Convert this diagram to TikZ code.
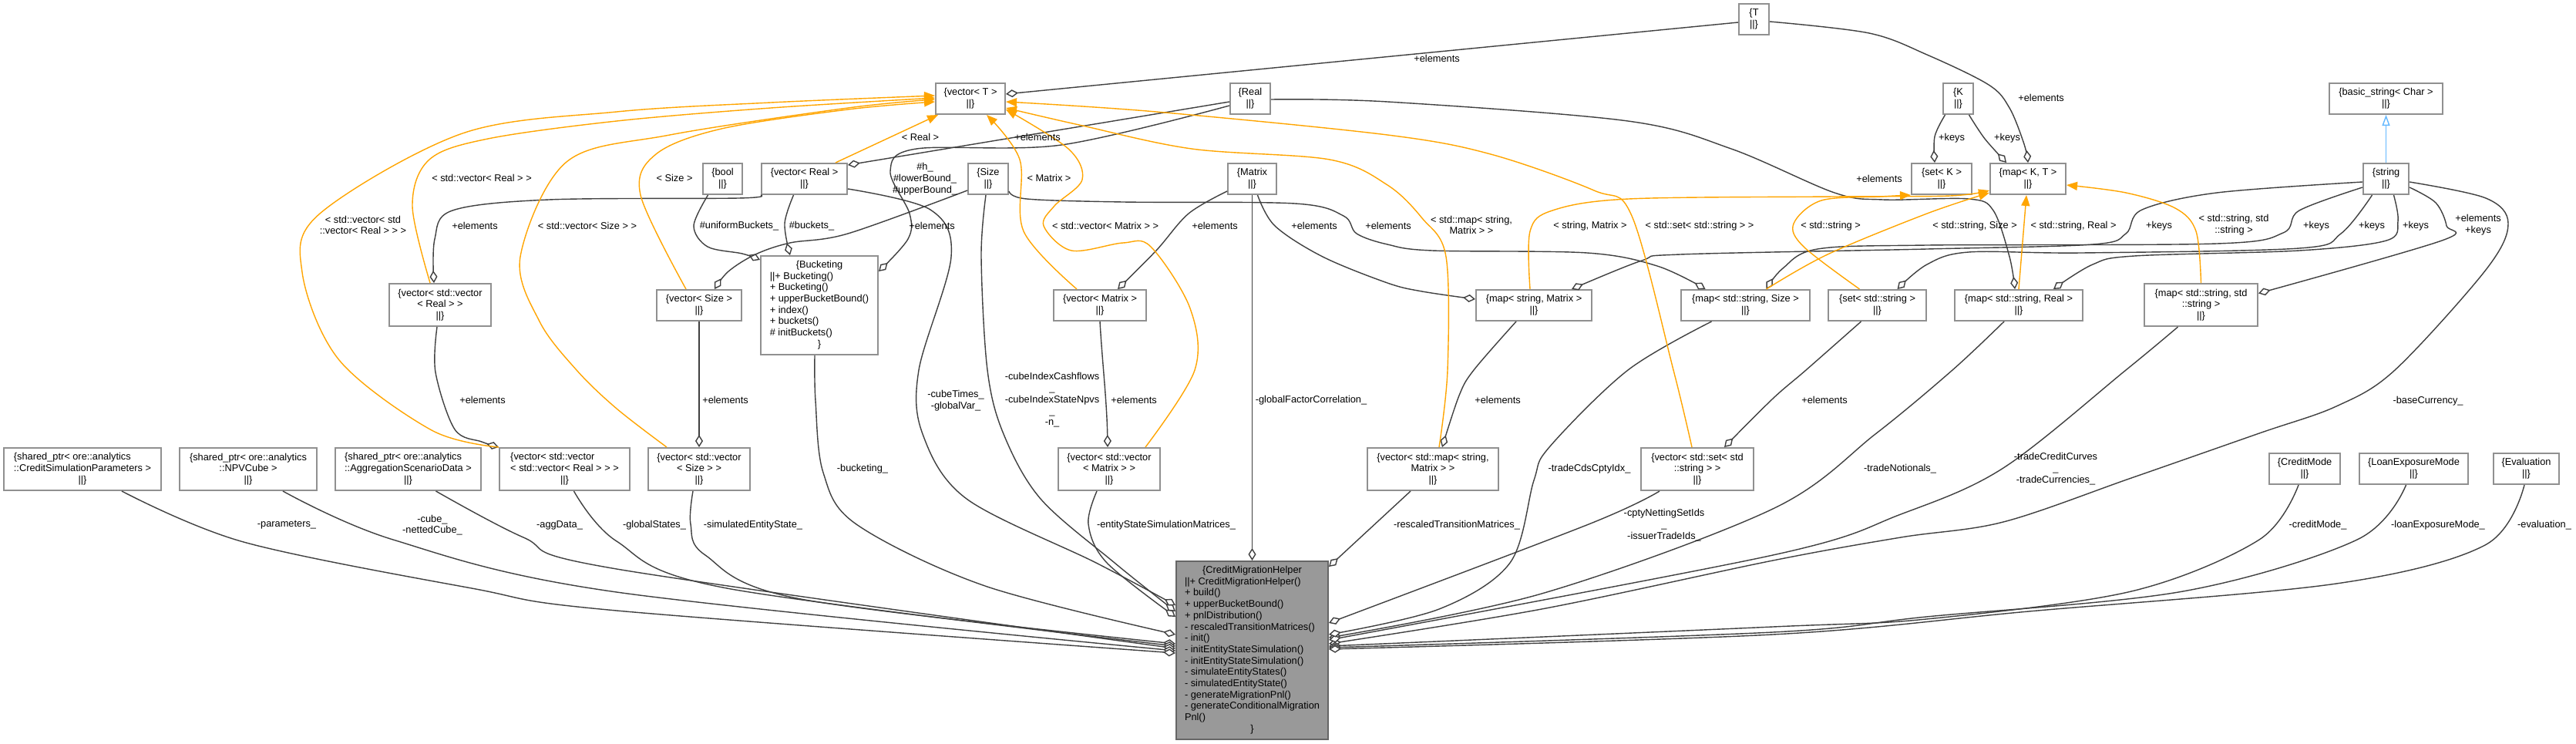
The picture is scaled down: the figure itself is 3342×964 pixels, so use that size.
\documentclass[tikz,border=0pt]{standalone}
\usepackage{fontspec}
\setmainfont{Liberation Sans}
\usetikzlibrary{arrows.meta}
\definecolor{edgegray}{HTML}{404040}
\definecolor{boxgray}{HTML}{909090}
\definecolor{cmhfill}{HTML}{999999}
\definecolor{cmhdraw}{HTML}{666666}
\definecolor{tmplorange}{HTML}{FFA500}
\definecolor{inhblue}{HTML}{63B8FF}
\newcommand\dfs{\fontsize{12.8}{14.7}\selectfont}
\newcommand\mc[1]{\multicolumn{1}{@{}c@{}}{#1}}
\tikzset{
  cls/.style={draw=boxgray, line width=2pt, fill=white, inner sep=0pt, font=\dfs, align=center},
  tbox/.style={draw=boxgray, line width=2pt, fill=white, inner sep=0pt, font=\dfs},
  mainbox/.style={draw=cmhdraw, line width=2pt, fill=cmhfill, inner sep=0pt, font=\dfs},
  lbl/.style={inner sep=0pt, font=\dfs, align=center},
  gedge/.style={draw=edgegray, line width=1.4pt, -{Diamond[fill=white, length=16pt, width=10pt]}},
  tedge/.style={draw=tmplorange, line width=1.4pt, -{Triangle[length=14pt, width=11pt]}},
  iedge/.style={draw=inhblue, line width=1.4pt, -{Triangle[fill=white, length=14pt, width=10pt]}},
  sm/.style={smooth, tension=0.55}
}
\begin{document}
\begin{tikzpicture}[x=1pt,y=-1pt]
\useasboundingbox[fill=white] (0,0) rectangle (3342,964);

% ---------- nodes ----------
\node[cls, minimum width=90pt, minimum height=40pt] (vT) at (1259,128) {\{vector< T >\\||\}};
\node[cls, minimum width=39pt, minimum height=40pt] (T) at (2275.5,25) {\{T\\||\}};
\node[cls, minimum width=52pt, minimum height=40pt] (Real) at (1622,128) {\{Real\\||\}};
\node[cls, minimum width=39pt, minimum height=40pt] (K) at (2540.5,128) {\{K\\||\}};
\node[cls, minimum width=147pt, minimum height=40pt] (basic) at (3095.5,128) {\{basic\_string< Char >\\||\}};
\node[cls, minimum width=51pt, minimum height=40pt] (bool) at (937.5,232) {\{bool\\||\}};
\node[cls, minimum width=111pt, minimum height=40pt] (vReal) at (1043.5,232) {\{vector< Real >\\||\}};
\node[cls, minimum width=52pt, minimum height=40pt] (Size) at (1282,232) {\{Size\\||\}};
\node[cls, minimum width=63pt, minimum height=40pt] (Matrix) at (1624.5,232) {\{Matrix\\||\}};
\node[cls, minimum width=78pt, minimum height=40pt] (setK) at (2519,232) {\{set< K >\\||\}};
\node[cls, minimum width=98pt, minimum height=40pt] (mapKT) at (2631,232) {\{map< K, T >\\||\}};
\node[cls, minimum width=59pt, minimum height=40pt] (string) at (3095.5,232) {\{string\\||\}};

\node[tbox, minimum width=152pt, minimum height=128pt] (bucket) at (1063,396)
  {\begin{tabular}{@{}l@{}}\mc{\{Bucketing}\\ ||+ Bucketing()\\ + Bucketing()\\ + upperBucketBound()\\ + index()\\ + buckets()\\ \# initBuckets()\\ \mc{\}}\end{tabular}};
\node[cls, minimum width=132pt, minimum height=55pt] (vvReal) at (571,395.5) {\{vector< std::vector\\< Real > >\\||\}};
\node[cls, minimum width=110pt, minimum height=40pt] (vSize) at (907,396) {\{vector< Size >\\||\}};
\node[cls, minimum width=120pt, minimum height=40pt] (vMatrix) at (1427,396) {\{vector< Matrix >\\||\}};
\node[cls, minimum width=150pt, minimum height=40pt] (mapSM) at (1990,396) {\{map< string, Matrix >\\||\}};
\node[cls, minimum width=167pt, minimum height=40pt] (mapSS) at (2264.5,396) {\{map< std::string, Size >\\||\}};
\node[cls, minimum width=127pt, minimum height=40pt] (setS) at (2435.5,396) {\{set< std::string >\\||\}};
\node[cls, minimum width=166pt, minimum height=40pt] (mapSR) at (2619,396) {\{map< std::string, Real >\\||\}};
\node[cls, minimum width=147pt, minimum height=55pt] (mapSSt) at (2855.5,395.5) {\{map< std::string, std\\::string >\\||\}};

\node[tbox, minimum width=204pt, minimum height=55pt] (spCSP) at (107,608.5)
  {\begin{tabular}{@{}l@{}}\{shared\_ptr< ore::analytics\\ ::CreditSimulationParameters >\\ \mc{||\}}\end{tabular}};
\node[cls, minimum width=178pt, minimum height=55pt] (spNPV) at (322,608.5) {\{shared\_ptr< ore::analytics\\::NPVCube >\\||\}};
\node[tbox, minimum width=189pt, minimum height=55pt] (spAgg) at (529.5,608.5)
  {\begin{tabular}{@{}l@{}}\{shared\_ptr< ore::analytics\\ ::AggregationScenarioData >\\ \mc{||\}}\end{tabular}};
\node[tbox, minimum width=169pt, minimum height=55pt] (vvvReal) at (732.5,608.5)
  {\begin{tabular}{@{}l@{}}\{vector< std::vector\\ < std::vector< Real > > >\\ \mc{||\}}\end{tabular}};
\node[cls, minimum width=132pt, minimum height=55pt] (vvSize) at (907,608.5) {\{vector< std::vector\\< Size > >\\||\}};
\node[cls, minimum width=132pt, minimum height=55pt] (vvMatrix) at (1439,608.5) {\{vector< std::vector\\< Matrix > >\\||\}};
\node[cls, minimum width=170pt, minimum height=55pt] (vmap) at (1859,608.5) {\{vector< std::map< string,\\Matrix > >\\||\}};
\node[cls, minimum width=146pt, minimum height=55pt] (vset) at (2202,608.5) {\{vector< std::set< std\\::string > >\\||\}};
\node[cls, minimum width=92pt, minimum height=40pt] (cmode) at (2990,608) {\{CreditMode\\||\}};
\node[cls, minimum width=141pt, minimum height=40pt] (lem) at (3131.5,608) {\{LoanExposureMode\\||\}};
\node[cls, minimum width=85pt, minimum height=40pt] (eval) at (3277.5,608) {\{Evaluation\\||\}};

\node[mainbox, minimum width=197pt, minimum height=231pt] (cmh) at (1624.5,843.5)
  {\begin{tabular}{@{}l@{}}\mc{\{CreditMigrationHelper}\\ ||+ CreditMigrationHelper()\\ + build()\\ + upperBucketBound()\\ + pnlDistribution()\\ - rescaledTransitionMatrices()\\ - init()\\ - initEntityStateSimulation()\\ - initEntityStateSimulation()\\ - simulateEntityStates()\\ - simulatedEntityState()\\ - generateMigrationPnl()\\ - generateConditionalMigration\\ Pnl()\\ \mc{\}}\end{tabular}};

% ---------- member edges (grey, diamond) ----------
\draw[gedge] ([yshift=-4pt]Real.west) -- ([yshift=18pt]vReal.east);
\draw[gedge] plot[sm] coordinates {([yshift=-9pt]Real.west) (1377,188) (1189,193) (1155,222) (1180,277) (1178,310) ([yshift=44pt]bucket.east)};
\draw[gedge] plot[sm] coordinates {([yshift=-1pt]Real.east) (1800,132) (2112,157) (2246,193) (2380,250) (2443,259) (2554,258) (2586,273) (2607,333) ([xshift=-5pt]mapSR.north)};
\draw[gedge] ([yshift=-4pt]T.west) -- ([yshift=6pt]vT.east);
\draw[gedge] plot[sm] coordinates {([yshift=-3pt]T.east) (2425,43) (2500,71) (2580,110) (2607,140) (2626,187) (mapKT.north)};
\draw[gedge] plot[sm] coordinates {([xshift=-17pt]K.south) (2510,177) ([xshift=-9pt]setK.north)};
\draw[gedge] plot[sm] coordinates {([xshift=14pt]K.south) (2575,180) ([xshift=-28pt]mapKT.north)};
\draw[gedge] plot[sm] coordinates {([xshift=-19pt]bool.south) (900,293) (918,320) (963,329) ([yshift=-6pt]bucket.north west)};
\draw[gedge] plot[sm] coordinates {([xshift=-14pt]vReal.south) (1018,290) ([xshift=-38pt]bucket.north)};
\draw[gedge] plot[sm] coordinates {(vReal.south west) (958,257) (712,259) (587,273) (564,310) ([xshift=-8pt]vvReal.north)};
\draw[gedge] plot[sm] coordinates {([xshift=-4pt]vvReal.south) (565,483) (590,557) (625,573) (vvvReal.north west)};
\draw[gedge] (vSize.south) -- (vvSize.north);
\draw[gedge] plot[sm] coordinates {([yshift=-15pt]Size.west) (1100,303) (1025,315) (980,330) (945,352) ([xshift=20pt]vSize.north)};
\draw[gedge] plot[sm] coordinates {([yshift=-16pt]Matrix.west) (1542,277) (1500,325) ([xshift=23pt]vMatrix.north)};
\draw[gedge] plot[sm] coordinates {([xshift=7pt]Matrix.south) (1654,293) (1716,333) (1800,367) (1845,378) ([yshift=8pt]mapSM.west)};
\draw[gedge] plot[sm] coordinates {([yshift=-16pt]Size.east) (1332,258) (1457,262) (1680,264) (1743,280) (1760,303) (1800,317) (1858,325) (2059,328) (2150,345) ([xshift=-52pt]mapSS.north)};
\draw[gedge] plot[sm] coordinates {([xshift=-23pt]mapSM.south) (1912,480) (1893,513) ([xshift=12pt]vmap.north)};
\draw[gedge] plot[sm] coordinates {([xshift=-21pt]setS.south) (2343,480) (2300,517) ([xshift=35pt]vset.north)};
\draw[gedge] (vMatrix.south) .. controls (1430,470) and (1436,520) .. ([xshift=-2pt]vvMatrix.north);
\draw[gedge] plot[sm] coordinates {([yshift=-4pt]string.west) (2876,250) (2779,272) (2758,303) (2715,317) (2500,323) (2180,330) (2130,338) ([xshift=49pt]mapSM.north)};
\draw[gedge] plot[sm] coordinates {([yshift=-11pt]string.west) (2983,273) (2962,302) (2876,316) (2500,318) (2358,323) (2313,348) ([xshift=27pt]mapSS.north)};
\draw[gedge] plot[sm] coordinates {([xshift=-18pt]string.south) (3037,303) (2983,322) (2700,328) (2554,327) (2500,343) ([xshift=26pt]setS.north)};
\draw[gedge] plot[sm] coordinates {([xshift=10pt]string.south) (3111,287) (3096,312) (2983,325) (2769,332) (2715,343) ([xshift=45pt]mapSR.north)};
\draw[gedge] plot[sm] coordinates {([yshift=-11pt]string.east) (3160,263) (3174,293) (3168,312) ([yshift=15pt]mapSSt.east)};
\draw[iedge] (string.north) -- (basic.south);

% into CreditMigrationHelper
\draw[gedge] plot[sm] coordinates {([yshift=-4pt]string.east) (3225,257) (3254,290) (3225,350) (3107,480) (3031,527) (2931,562) (2765,620) (2599,677) (2466,697) (2300,727) (2000,790) ([yshift=8.5pt]cmh.east)};
\draw[gedge] plot[sm] coordinates {([xshift=-8pt]cmode.south) (2931,700) (2765,767) (2499,803) (2300,813) ([yshift=5.5pt]cmh.east)};
\draw[gedge] plot[sm] coordinates {([xshift=-10pt]lem.south) (3058,700) (2832,767) (2499,800) (2300,820) ([yshift=3.5pt]cmh.east)};
\draw[gedge] plot[sm] coordinates {([xshift=-2.5pt]eval.south) (3224,707) (3031,757) (2632,793) (2300,823) ([yshift=1.5pt]cmh.east)};
\draw[gedge] plot[sm] coordinates {([xshift=-19pt]mapSR.south) (2533,480) (2433,563) (2300,660) (2000,770) ([yshift=16.5pt]cmh.east)};
\draw[gedge] plot[sm] coordinates {([xshift=-30pt]mapSSt.south) (2758,480) (2599,607) (2466,667) (2300,720) ([yshift=13.5pt]cmh.east)};
\draw[gedge] plot[sm] coordinates {([xshift=-49pt]vset.south) (2061,680) ([yshift=35.5pt]cmh.east)};
\draw[gedge] plot[sm] coordinates {([xshift=-44pt]mapSS.south) (2112,480) (2010,580) (1990,623) (1959,730) (1867,790) ([yshift=20.5pt]cmh.east)};
\draw[gedge] ([xshift=-29pt]vmap.south) -- ([yshift=-8pt]cmh.north east);
\draw[gedge] (Matrix.south) -- (cmh.north);
\draw[gedge] plot[sm] coordinates {([xshift=-16pt]vvMatrix.south) (1412,680) (1436,730) ([yshift=43.5pt]cmh.west)};
\draw[gedge] plot[sm] coordinates {([xshift=-3pt]Size.south) (1273,333) (1281,480) (1302,563) (1350,647) (1446,730) ([yshift=50.5pt]cmh.west)};
\draw[gedge] plot[sm] coordinates {([yshift=-13pt]vReal.east) (1207,272) (1234,333) (1192,480) (1197,563) (1254,647) (1422,730) ([yshift=58.5pt]cmh.west)};
\draw[gedge] plot[sm] coordinates {([xshift=-6pt]bucket.south) (1058,520) (1068,613) (1111,680) (1278,760) ([yshift=20.5pt]cmh.west)};
\draw[gedge] plot[sm] coordinates {([xshift=-8pt]vvSize.south) (896,680) (915,720) (1039,777) ([yshift=8.5pt]cmh.west)};
\draw[gedge] plot[sm] coordinates {([xshift=12pt]vvvReal.south) (800,702) (943,763) ([yshift=5.5pt]cmh.west)};
\draw[gedge] plot[sm] coordinates {([xshift=36pt]spAgg.south) (679,697) (800,738) ([yshift=2.5pt]cmh.west)};
\draw[gedge] plot[sm] coordinates {([xshift=45pt]spNPV.south) (510,700) (800,768) ([yshift=-0.5pt]cmh.west)};
\draw[gedge] plot[sm] coordinates {([xshift=51pt]spCSP.south) (316,703) (612,763) (800,792) ([yshift=-3.5pt]cmh.west)};

% ---------- template edges (orange) ----------
\draw[tedge] ([xshift=-16pt]vReal.north east) -- ([xshift=4pt]vT.south west);
\draw[tedge] plot[sm] coordinates {([xshift=-13pt]vvReal.north) (535,267) (557,207) (633,180) (800,157) (1000,140) ([yshift=1pt]vT.west)};
\draw[tedge] plot[sm] coordinates {(vvvReal.north west) (560,558) (440,467) (392,353) (415,277) (600,173) (800,145) (1000,133) ([yshift=4pt]vT.west)};
\draw[tedge] plot[sm] coordinates {([xshift=-17pt]vSize.north) (831,253) (851,200) (936,167) (1100,142) ([yshift=-4pt]vT.west)};
\draw[tedge] plot[sm] coordinates {([xshift=-42pt]vvSize.north) (800,530) (748,480) (700,417) (675,333) (735,210) (869,175) (1100,140) ([yshift=-1pt]vT.west)};
\draw[tedge] plot[sm] coordinates {([xshift=-30pt]vMatrix.north) (1328,300) (1323,207) ([xshift=21pt]vT.south)};
\draw[tedge] plot[sm] coordinates {([xshift=47pt]vvMatrix.north) (1550,480) (1544,400) (1493,320) (1457,315) (1390,325) (1354,293) (1368,267) (1404,233) (1386,193) ([yshift=-14pt]vT.east)};
\draw[tedge] plot[sm] coordinates {([xshift=8pt]vmap.north) (1878,480) (1876,333) (1845,283) (1800,240) (1725,207) (1546,193) (1400,162) ([yshift=-12pt]vT.east)};
\draw[tedge] plot[sm] coordinates {([xshift=-7pt]vset.north) (2171,480) (2117,280) (2068,247) (1934,200) (1800,175) (1500,145) ([yshift=-4pt]vT.east)};
\draw[tedge] plot[sm] coordinates {([xshift=-5pt]mapSM.north) (1985,300) (2014,273) (2113,258) (2380,255) (2530,254) ([yshift=-15pt]mapKT.west)};
\draw[tedge] plot[sm] coordinates {([xshift=27pt]mapSS.north) (2371,330) (2500,277) ([yshift=-18pt]mapKT.west)};
\draw[tedge] plot[sm] coordinates {([xshift=-23pt]setS.north) (2340,320) (2327,290) (2363,260) (2440,255) (setK.south west)};
\draw[tedge] (mapSR.north) -- ([xshift=-2pt]mapKT.south);
\draw[tedge] plot[sm] coordinates {(mapSSt.north) (2849,300) (2822,270) (2758,250) ([yshift=-8pt]mapKT.east)};

% ---------- labels ----------
\node[lbl] (l1) at (1864,76) {+elements};
\node[lbl] (l2) at (2648,127) {+elements};
\node[lbl] (l3) at (1194,178) {< Real >};
\node[lbl] (l4) at (1346,178) {+elements};
\node[lbl] (l5) at (2532,179) {+keys};
\node[lbl] (l6) at (2604,179) {+keys};
\node[lbl] (l7) at (625,231) {< std::vector< Real > >};
\node[lbl] (l8) at (875,231) {< Size >};
\node[lbl] (l9) at (1200,232) {\#h\_\\\#lowerBound\_\\\#upperBound\_};
\node[lbl] (l10) at (1361,231) {< Matrix >};
\node[lbl] (l11) at (2438,232) {+elements};
\node[lbl] (l12) at (471,292) {< std::vector< std\\::vector< Real > > >};
\node[lbl] (l13) at (616,293) {+elements};
\node[lbl] (l14) at (762,293) {< std::vector< Size > >};
\node[lbl] (l15) at (959,293) {\#uniformBuckets\_};
\node[lbl] (l16) at (1053,293) {\#buckets\_};
\node[lbl] (l17) at (1209,293) {+elements};
\node[lbl] (l18) at (1434,293) {< std::vector< Matrix > >};
\node[lbl] (l19) at (1576,293) {+elements};
\node[lbl] (l20) at (1705,293) {+elements};
\node[lbl] (l21) at (1801,293) {+elements};
\node[lbl] (l22) at (1909,292) {< std::map< string,\\Matrix > >};
\node[lbl] (l23) at (2063,293) {< string, Matrix >};
\node[lbl] (l24) at (2205,293) {< std::set< std::string > >};
\node[lbl] (l25) at (2375,293) {< std::string >};
\node[lbl] (l26) at (2562,293) {< std::string, Size >};
\node[lbl] (l27) at (2690,293) {< std::string, Real >};
\node[lbl] (l28) at (2801,293) {+keys};
\node[lbl] (l29) at (2898,292) {< std::string, std\\::string >};
\node[lbl] (l30) at (3005,293) {+keys};
\node[lbl] (l31) at (3077,293) {+keys};
\node[lbl] (l32) at (3134,293) {+keys};
\node[lbl] (l33) at (3215,292) {+elements\\+keys};
\node[lbl] (l34) at (626,519) {+elements};
\node[lbl] (l35) at (941,519) {+elements};
\node[lbl] (l36) at (1240,520) {-cubeTimes\_\\-globalVar\_};
\node[lbl] (l37) at (1365,519) {-cubeIndexCashflows\\\_\\-cubeIndexStateNpvs\\\_\\-n\_};
\node[lbl] (l38) at (1471,519) {+elements};
\node[lbl] (l39) at (1701,519) {-globalFactorCorrelation\_};
\node[lbl] (l40) at (1943,519) {+elements};
\node[lbl] (l41) at (2367,519) {+elements};
\node[lbl] (l42) at (3150,520) {-baseCurrency\_};
\node[lbl] (l43) at (1119,608) {-bucketing\_};
\node[lbl] (l44) at (2062,608) {-tradeCdsCptyIdx\_};
\node[lbl] (l45) at (2465,608) {-tradeNotionals\_};
\node[lbl] (l46) at (2667,608) {-tradeCreditCurves\\\_\\-tradeCurrencies\_};
\node[lbl] (l47) at (372,681) {-parameters\_};
\node[lbl] (l48) at (561,681) {-cube\_\\-nettedCube\_};
\node[lbl] (l49) at (726,681) {-aggData\_};
\node[lbl] (l50) at (849,681) {-globalStates\_};
\node[lbl] (l51) at (977,681) {-simulatedEntityState\_};
\node[lbl] (l52) at (1513,681) {-entityStateSimulationMatrices\_};
\node[lbl] (l53) at (1890,681) {-rescaledTransitionMatrices\_};
\node[lbl] (l54) at (2159,681) {-cptyNettingSetIds\\\_\\-issuerTradeIds\_};
\node[lbl] (l55) at (3007,681) {-creditMode\_};
\node[lbl] (l56) at (3163,681) {-loanExposureMode\_};
\node[lbl] (l57) at (3301,681) {-evaluation\_};
\end{tikzpicture}
\end{document}
